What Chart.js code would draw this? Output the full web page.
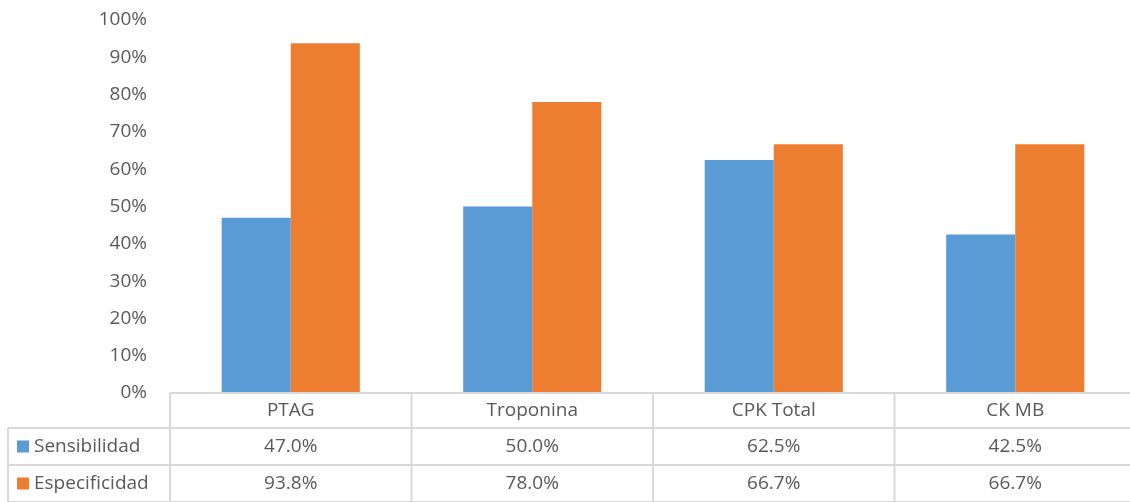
<!DOCTYPE html>
<html>
<head>
<meta charset="utf-8">
<script src="https://cdn.jsdelivr.net/npm/chart.js@4/dist/chart.umd.min.js"></script>
<style>
  html, body { margin: 0; padding: 0; background: #fff; overflow: hidden; }
  #wrap { width: 1137px; height: 502px; position: relative; }
</style>
</head>
<body>
<div id="wrap"><canvas id="c"></canvas></div>
<script>
// Categories and series (percent values)
const categories = ['PTAG', 'Troponina', 'CPK Total', 'CK MB'];
const sensibilidad = [47.0, 50.0, 62.5, 42.5];
const especificidad = [93.8, 78.0, 66.7, 66.7];
const seriesNames = ['Sensibilidad', 'Especificidad'];
const seriesColors = ['#5B9BD5', '#ED7D31'];
const yTicks = [0, 10, 20, 30, 40, 50, 60, 70, 80, 90, 100];

const FONT = '"Open Sans", Lato, sans-serif';
const FONT_SIZE = 19;
const TEXT = '#595959';
const LINE = '#D9D9D9';

// Data table drawn under the plot, aligned to the category scale
const dataTable = {
  id: 'dataTable',
  afterDraw(chart) {
    const ctx = chart.ctx;
    const x = chart.scales.x;
    const area = chart.chartArea;
    const n = chart.data.labels.length;
    const step = (x.getPixelForValue(1) - x.getPixelForValue(0));
    const left = area.left, right = area.right;
    const top = area.bottom;
    const rowH = [35, 37, 37];
    const y1 = top + rowH[0], y2 = y1 + rowH[1], y3 = y2 + rowH[2];
    const labelLeft = 8;

    ctx.save();
    ctx.strokeStyle = LINE;
    ctx.lineWidth = 2;
    ctx.beginPath();
    ctx.moveTo(left, top); ctx.lineTo(right, top);
    ctx.moveTo(labelLeft, y1); ctx.lineTo(right, y1);
    ctx.moveTo(labelLeft, y2); ctx.lineTo(right, y2);
    ctx.moveTo(labelLeft, y3); ctx.lineTo(right, y3);
    ctx.moveTo(labelLeft, y1); ctx.lineTo(labelLeft, y3);
    for (let i = 0; i <= n; i++) {
      const px = x.getPixelForValue(i) - step / 2;
      ctx.moveTo(px, top); ctx.lineTo(px, y3);
    }
    ctx.stroke();

    ctx.fillStyle = TEXT;
    ctx.font = FONT_SIZE + 'px ' + FONT;
    ctx.textAlign = 'center';
    ctx.textBaseline = 'middle';
    chart.data.labels.forEach((lab, i) => {
      ctx.fillText(lab, x.getPixelForValue(i), (top + y1) / 2);
    });
    const rowsY = [(y1 + y2) / 2, (y2 + y3) / 2];
    chart.data.datasets.forEach((ds, d) => {
      ds.data.forEach((v, i) => {
        ctx.fillStyle = TEXT;
        ctx.textAlign = 'center';
        ctx.fillText(v.toFixed(1) + '%', x.getPixelForValue(i), rowsY[d]);
      });
      ctx.fillStyle = ds.backgroundColor;
      ctx.fillRect(17, rowsY[d] - 6, 12, 12);
      ctx.fillStyle = TEXT;
      ctx.textAlign = 'left';
      ctx.fillText(ds.label, 34, rowsY[d]);
    });
    ctx.restore();
  }
};

new Chart(document.getElementById('c'), {
  type: 'bar',
  data: {
    labels: categories,
    datasets: [
      { label: seriesNames[0], data: sensibilidad, backgroundColor: seriesColors[0] },
      { label: seriesNames[1], data: especificidad, backgroundColor: seriesColors[1] }
    ]
  },
  options: {
    responsive: true,
    maintainAspectRatio: false,
    animation: false,
    devicePixelRatio: 1,
    layout: { padding: { top: 20, bottom: 109, left: 0, right: 1 } },
    datasets: { bar: { categoryPercentage: 0.572, barPercentage: 1.0, borderWidth: 0 } },
    plugins: { legend: { display: false }, tooltip: { enabled: false } },
    scales: {
      x: { display: false, offset: true },
      y: {
        min: 0, max: 100,
        afterFit(s) { s.width = 170; s.paddingTop = 0; s.paddingBottom = 0; },
        afterBuildTicks(s) { s.ticks = yTicks.map(v => ({ value: v })); },
        border: { display: false },
        grid: { display: false, drawTicks: false },
        ticks: {
          padding: 23,
          color: TEXT,
          font: { family: FONT, size: FONT_SIZE },
          callback: v => v + '%'
        }
      }
    }
  },
  plugins: [dataTable]
});
</script>
</body>
</html>
